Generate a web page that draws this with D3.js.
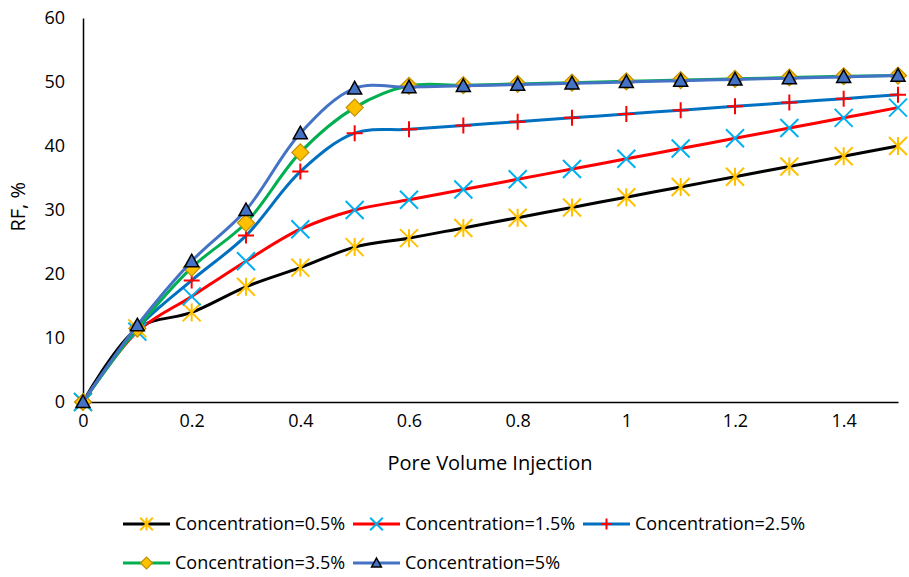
<!DOCTYPE html>
<html>
<head>
<meta charset="utf-8">
<script src="https://cdn.jsdelivr.net/npm/d3@7"></script>
<style>
  body { margin: 0; background: #fff; }
  text { font-family: "Open Sans", sans-serif; fill: #000; }
</style>
</head>
<body>
<svg id="chart"></svg>
<script>
const pvi = [0, 0.1, 0.2, 0.3, 0.4, 0.5, 0.6, 0.7, 0.8, 0.9, 1.0, 1.1, 1.2, 1.3, 1.4, 1.5];
const c05 = [0, 11.5, 14, 18, 21, 24.2, 25.6, 27.2, 28.8, 30.4, 32, 33.6, 35.2, 36.8, 38.4, 40];
const c15 = [0, 11, 16.5, 22, 27, 30, 31.6, 33.2, 34.8, 36.4, 38, 39.6, 41.2, 42.8, 44.4, 46];
const c25 = [0, 11.5, 19, 26, 36, 42, 42.6, 43.2, 43.8, 44.4, 45, 45.6, 46.2, 46.8, 47.4, 48];
const c35 = [0, 11.5, 21, 28, 39, 46, 49.4, 49.5, 49.7, 49.9, 50.1, 50.3, 50.5, 50.7, 50.9, 51];
const c50 = [0, 12, 22, 30, 42, 49, 49.2, 49.4, 49.6, 49.8, 50, 50.2, 50.4, 50.6, 50.8, 51];
const seriesNames = ["Concentration=0.5%", "Concentration=1.5%", "Concentration=2.5%", "Concentration=3.5%", "Concentration=5%"];
const xTicks = [0, 0.2, 0.4, 0.6, 0.8, 1, 1.2, 1.4];
const yTicks = [0, 10, 20, 30, 40, 50, 60];

const width = 909, height = 577;
const styles = [
    { line: "#000000", marker: "star", fill: "none", stroke: "#FFC000" },
    { line: "#FF0000", marker: "cross", fill: "none", stroke: "#00B0F0" },
    { line: "#0070C0", marker: "plus", fill: "none", stroke: "#FF0000" },
    { line: "#00B050", marker: "diamond", fill: "#FFC000", stroke: "#BF9000" },
    { line: "#4472C4", marker: "triangle", fill: "#4472C4", stroke: "#000000" }
];
const allSeries = [c05, c15, c25, c35, c50];

const svg = d3.select("#chart").attr("width", width).attr("height", height);

const x = d3.scaleLinear().domain([0, 1.5]).range([83, 898]);
const y = d3.scaleLinear().domain([0, 60]).range([402, 18]);

// axes, no tick marks
svg.append("g")
    .attr("transform", "translate(0," + y(0) + ")")
    .call(d3.axisBottom(x).tickValues(xTicks).tickSize(0).tickPadding(12).tickFormat(d3.format("")))
    .call(g => g.select(".domain").attr("stroke", "#000").attr("stroke-width", 1.5))
    .call(g => g.selectAll("text").style("font-size", "18px").style("font-family", "Open Sans"));

svg.append("g")
    .attr("transform", "translate(" + x(0) + ",0)")
    .call(d3.axisLeft(y).tickValues(yTicks).tickSize(0).tickPadding(18))
    .call(g => g.select(".domain").attr("stroke", "#000").attr("stroke-width", 1.5))
    .call(g => g.selectAll("text").style("font-size", "18px").style("font-family", "Open Sans"));

svg.append("text")
    .attr("x", 490).attr("y", 470)
    .attr("text-anchor", "middle")
    .style("font-size", "20px")
    .text("Pore Volume Injection");

svg.append("text")
    .attr("transform", "translate(25," + y(30.5) + ") rotate(-90)")
    .attr("text-anchor", "middle")
    .style("font-size", "20px")
    .text("RF, %");

function drawMarker(g, type, st, size) {
    const h = size / 2;
    if (type === "star") {
        const d = "M" + (-h) + "," + (-h) + "L" + h + "," + h + "M" + (-h) + "," + h + "L" + h + "," + (-h) + "M0," + (-h) + "L0," + h;
        g.append("path").attr("d", d).attr("stroke", st.stroke).attr("stroke-width", 2).attr("fill", "none");
    } else if (type === "cross") {
        const d = "M" + (-h) + "," + (-h) + "L" + h + "," + h + "M" + (-h) + "," + h + "L" + h + "," + (-h);
        g.append("path").attr("d", d).attr("stroke", st.stroke).attr("stroke-width", 2).attr("fill", "none");
    } else if (type === "plus") {
        const d = "M" + (-h) + ",0L" + h + ",0M0," + (-h) + "L0," + h;
        g.append("path").attr("d", d).attr("stroke", st.stroke).attr("stroke-width", 2).attr("fill", "none");
    } else if (type === "diamond") {
        const d = "M0," + (-h) + "L" + h + ",0L0," + h + "L" + (-h) + ",0Z";
        g.append("path").attr("d", d).attr("stroke", st.stroke).attr("stroke-width", 1.2).attr("fill", st.fill);
    } else if (type === "triangle") {
        const d = "M0," + (-h) + "L" + h + "," + (h * 0.8) + "L" + (-h) + "," + (h * 0.8) + "Z";
        g.append("path").attr("d", d).attr("stroke", st.stroke).attr("stroke-width", 1.5).attr("fill", st.fill);
    }
}
const markerSize = { star: 18, cross: 18, plus: 16, diamond: 17, triangle: 14 };

const line = d3.line()
    .x(d => x(d[0]))
    .y(d => y(d[1]))
    .curve(d3.curveCatmullRom.alpha(0.5));

allSeries.forEach((vals, i) => {
    const st = styles[i];
    const pts = pvi.map((p, j) => [p, vals[j]]);
    svg.append("path")
        .datum(pts)
        .attr("fill", "none")
        .attr("stroke", st.line)
        .attr("stroke-width", 3)
        .attr("stroke-linejoin", "round")
        .attr("d", line);
    pts.forEach(p => {
        const g = svg.append("g").attr("transform", "translate(" + x(p[0]) + "," + y(p[1]) + ")");
        drawMarker(g, st.marker, st, markerSize[st.marker]);
    });
});

// legend
const legendPos = [[123, 524], [353, 524], [583, 524], [123, 563], [353, 563]];
seriesNames.forEach((name, i) => {
    const st = styles[i];
    const lx = legendPos[i][0], ly = legendPos[i][1];
    svg.append("line")
        .attr("x1", lx).attr("x2", lx + 47)
        .attr("y1", ly).attr("y2", ly)
        .attr("stroke", st.line).attr("stroke-width", 3);
    const g = svg.append("g").attr("transform", "translate(" + (lx + 23.5) + "," + ly + ")");
    drawMarker(g, st.marker, st, markerSize[st.marker] * 0.7);
    svg.append("text")
        .attr("x", lx + 52).attr("y", ly + 6)
        .style("font-size", "18px")
        .text(name);
});
</script>
</body>
</html>
